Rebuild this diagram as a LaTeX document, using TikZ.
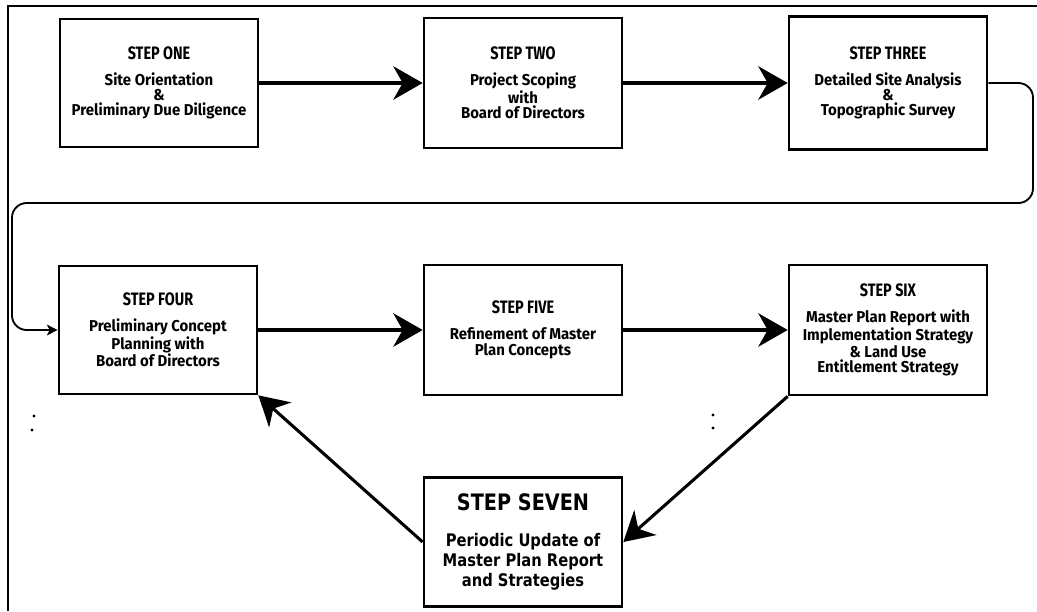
\documentclass[tikz,border=0pt]{standalone}
\usepackage{fontspec}
\setmainfont{Fira Sans}[FakeStretch=0.95]
\newfontfamily\titlefont{Fira Sans}[FakeStretch=0.8]
\newfontfamily\heavyfont{DejaVu Sans}[FakeStretch=0.85]
\usetikzlibrary{arrows.meta}
\tikzset{
  stepbox/.style={draw, line width=2pt, minimum width=148.5pt, minimum height=96pt,
    align=center, inner sep=0pt, font=\fontsize{11.8}{11.5}\selectfont\bfseries},
  flow/.style={line width=2.3pt, -{Stealth[length=22pt,width=25pt,inset=7pt]}},
  loopline/.style={line width=1.4pt, rounded corners=11pt,
    -{Stealth[length=8pt,width=8pt,inset=2pt]}},
}
\newcommand{\steptitle}[1]{{\titlefont\fontsize{13.5}{15}\selectfont #1}\\[8pt]}
\begin{document}
\begin{tikzpicture}[x=0.75pt,y=-0.75pt]
  \fill[white] (0,0) rectangle (1037,611);
  \useasboundingbox (0,0) rectangle (1037,611);
  \draw[line width=1.3pt] (8,611) -- (8,6) -- (1037,6);
  \node[stepbox] (one) at (159,83) {\steptitle{STEP ONE}Site Orientation\\\&\\Preliminary Due Diligence};
  \node[stepbox, minimum height=97.5pt] (two) at (523,83) {\steptitle{STEP TWO}Project Scoping\\with\\Board of Directors};
  \node[stepbox, minimum height=100pt] (three) at (888,83) {\steptitle{STEP THREE}Detailed Site Analysis\\\&\\Topographic Survey};
  \node[stepbox] (four) at (158,330) {\steptitle{STEP FOUR}Preliminary Concept\\Planning with\\Board of Directors};
  \node[stepbox, minimum height=97.5pt] (five) at (523,330) {\steptitle{STEP FIVE}Refinement of Master\\Plan Concepts};
  \node[stepbox, minimum height=97.5pt] (six) at (888,330) {\steptitle{STEP SIX}Master Plan Report with\\Implementation Strategy\\\& Land Use\\Entitlement Strategy};
  \node[stepbox, minimum height=97pt, font=\heavyfont\bfseries\fontsize{13}{15}\selectfont] (seven) at (523,542)
    {{\fontsize{17}{18}\selectfont STEP SEVEN}\\[12pt]Periodic Update of\\Master Plan Report\\and Strategies};
  \draw[flow] (one) -- (two);
  \draw[flow] (two) -- (three);
  \draw[flow] (four) -- (five);
  \draw[flow] (five) -- (six);
  \draw[flow] (six.south west) -- (seven.east);
  \draw[flow] (seven.west) -- (four.south east);
  \coordinate (loopR) at (1033,203);
  \coordinate (loopL) at (12,330);
  \draw[loopline] (three.east) -| (loopR) -| (loopL) -- (four.west);
  \foreach \p in {(34,416),(32,430),(713,415),(713,428)}
    \fill \p circle[radius=1.2pt];
\end{tikzpicture}
\end{document}
